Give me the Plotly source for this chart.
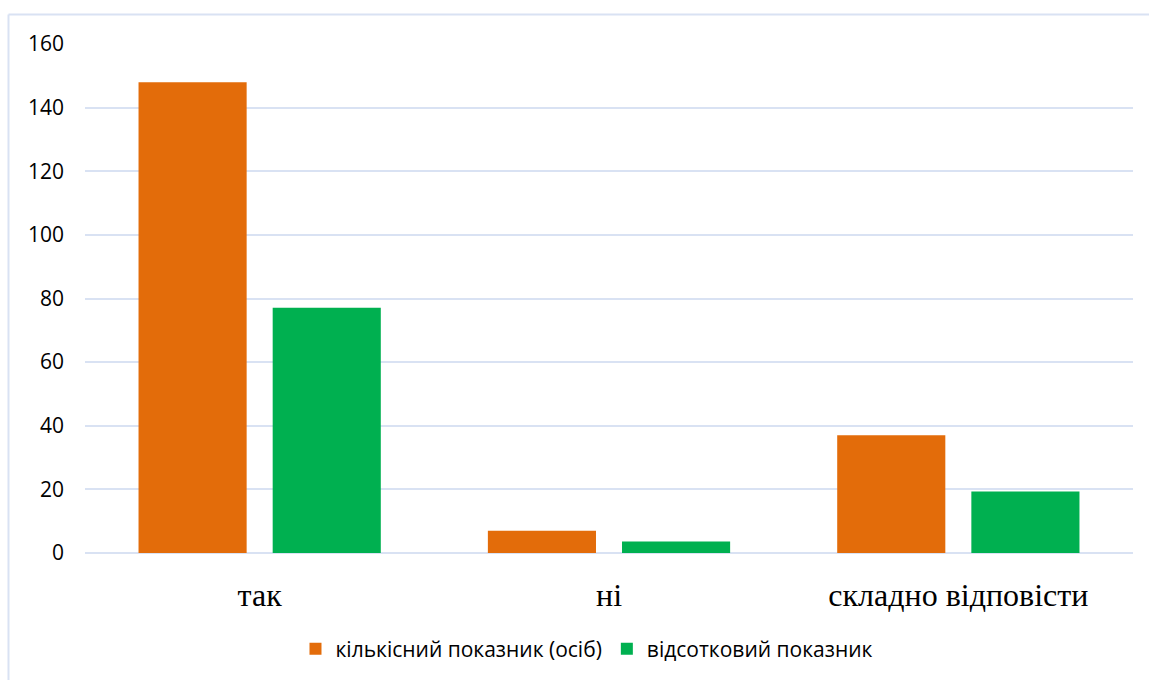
import plotly.graph_objects as go

categories = ["так", "ні", "складно відповісти"]
count_values = [148, 7, 37]
percent_values = [77.1, 3.6, 19.3]
series_names = ["кількісний показник (осіб)", "відсотковий показник"]
y_ticks = [0, 20, 40, 60, 80, 100, 120, 140, 160]

orange = "#E36C0A"
green = "#00B050"
grid_col = "#D9E2F3"

fig = go.Figure()
fig.add_trace(go.Bar(x=categories, y=count_values, name=series_names[0],
                     marker=dict(color=orange, line=dict(width=0))))
fig.add_trace(go.Bar(x=categories, y=percent_values, name=series_names[1],
                     marker=dict(color=green, line=dict(width=0))))

fig.update_layout(
    width=1149, height=680, autosize=False,
    margin=dict(l=85, r=16, t=44, b=127, pad=0, autoexpand=False),
    paper_bgcolor="white", plot_bgcolor="white",
    barmode="group", bargap=0.232, bargroupgap=0.194,
    font=dict(family="Open Sans", color="#000000"),
    hovermode=False,
    legend=dict(orientation="h", x=0.479, xanchor="center",
                y=-0.189, yanchor="middle", font=dict(family="Open Sans", size=21),
                traceorder="normal"),
    xaxis=dict(showgrid=False, showline=False, zeroline=False, tickangle=0,
               tickfont=dict(family="Liberation Serif", size=32),
               ticklabelstandoff=20),
    yaxis=dict(range=[0, 160], tickvals=y_ticks, showgrid=True, gridcolor=grid_col,
               gridwidth=2, zeroline=True, zerolinecolor=grid_col, zerolinewidth=2,
               showline=False, tickfont=dict(size=21), ticklabelstandoff=20),
)

# light blue chart frame: only the top and left edges fall inside the page
frame = dict(color=grid_col, width=2)
fig.add_shape(type="line", xref="paper", yref="paper",
              x0=-0.073, x1=1.1, y0=1.058, y1=1.058, line=frame, layer="below")
fig.add_shape(type="line", xref="paper", yref="paper",
              x0=-0.073, x1=-0.073, y0=-0.4, y1=1.058, line=frame, layer="below")

# drop the browser's default body margin and any scrollbars
fig.write_html("out.html", config={"displayModeBar": False},
               post_script="document.body.style.margin='0';document.body.style.overflow='hidden';")
